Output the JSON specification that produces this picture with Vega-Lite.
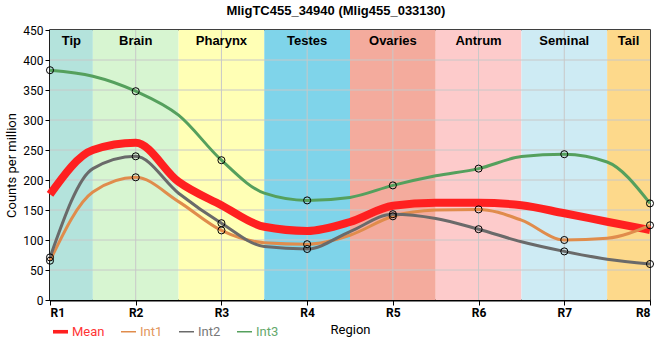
{
  "$schema": "https://vega.github.io/schema/vega-lite/v6.json",
  "width": 600,
  "height": 270,
  "autosize": "none",
  "padding": {"left": 50, "top": 30, "right": 10, "bottom": 60},
  "title": {"text": "MligTC455_34940 (Mlig455_033130)", "font": "Liberation Sans", "fontSize": 13, "fontWeight": "bold", "color": "black", "anchor": "middle", "frame": "bounds", "offset": 6},
  "config": {
    "view": {"stroke": "black", "strokeWidth": 1.5},
    "axis": {"labelFont": "Roboto", "titleFont": "Roboto", "labelColor": "black", "titleColor": "black", "domainColor": "black", "tickColor": "black", "grid": false, "titleFontWeight": "normal"}
  },
  "datasets": {
    "regions": [
      {"region": "Tip", "start": 1, "end": 1.5, "mid": 1.25},
      {"region": "Brain", "start": 1.5, "end": 2.5, "mid": 2},
      {"region": "Pharynx", "start": 2.5, "end": 3.5, "mid": 3},
      {"region": "Testes", "start": 3.5, "end": 4.5, "mid": 4},
      {"region": "Ovaries", "start": 4.5, "end": 5.5, "mid": 5},
      {"region": "Antrum", "start": 5.5, "end": 6.5, "mid": 6},
      {"region": "Seminal", "start": 6.5, "end": 7.5, "mid": 7},
      {"region": "Tail", "start": 7.5, "end": 8, "mid": 7.75}
    ],
    "gridy": [{"v": 50}, {"v": 100}, {"v": 150}, {"v": 200}, {"v": 250}, {"v": 300}, {"v": 350}, {"v": 400}],
    "gridx": [{"x": 2}, {"x": 3}, {"x": 4}, {"x": 5}, {"x": 6}, {"x": 7}],
    "expr": [
      {"series": "Mean", "x": 1, "v": 176, "m": 0},
      {"series": "Mean", "x": 1.5, "v": 250, "m": 0},
      {"series": "Mean", "x": 2, "v": 262, "m": 0},
      {"series": "Mean", "x": 2.5, "v": 197, "m": 0},
      {"series": "Mean", "x": 3, "v": 158, "m": 0},
      {"series": "Mean", "x": 3.5, "v": 122, "m": 0},
      {"series": "Mean", "x": 4, "v": 115, "m": 0},
      {"series": "Mean", "x": 4.5, "v": 130, "m": 0},
      {"series": "Mean", "x": 5, "v": 157, "m": 0},
      {"series": "Mean", "x": 5.5, "v": 162, "m": 0},
      {"series": "Mean", "x": 6, "v": 162, "m": 0},
      {"series": "Mean", "x": 6.5, "v": 158, "m": 0},
      {"series": "Mean", "x": 7, "v": 144.5, "m": 0},
      {"series": "Mean", "x": 7.5, "v": 130.5, "m": 0},
      {"series": "Mean", "x": 8, "v": 116.7, "m": 0},
      {"series": "Int1", "x": 1, "v": 65.5, "m": 1},
      {"series": "Int1", "x": 1.5, "v": 180, "m": 0},
      {"series": "Int1", "x": 2, "v": 204.5, "m": 1},
      {"series": "Int1", "x": 2.5, "v": 164, "m": 0},
      {"series": "Int1", "x": 3, "v": 116, "m": 1},
      {"series": "Int1", "x": 3.5, "v": 95.5, "m": 0},
      {"series": "Int1", "x": 4, "v": 93, "m": 1},
      {"series": "Int1", "x": 4.5, "v": 108, "m": 0},
      {"series": "Int1", "x": 5, "v": 139.5, "m": 1},
      {"series": "Int1", "x": 5.5, "v": 150, "m": 0},
      {"series": "Int1", "x": 6, "v": 151, "m": 1},
      {"series": "Int1", "x": 6.5, "v": 133, "m": 0},
      {"series": "Int1", "x": 7, "v": 100, "m": 1},
      {"series": "Int1", "x": 7.5, "v": 103, "m": 0},
      {"series": "Int1", "x": 8, "v": 124.5, "m": 1},
      {"series": "Int2", "x": 1, "v": 71, "m": 1},
      {"series": "Int2", "x": 1.5, "v": 219, "m": 0},
      {"series": "Int2", "x": 2, "v": 239.5, "m": 1},
      {"series": "Int2", "x": 2.5, "v": 178, "m": 0},
      {"series": "Int2", "x": 3, "v": 128, "m": 1},
      {"series": "Int2", "x": 3.5, "v": 89, "m": 0},
      {"series": "Int2", "x": 4, "v": 85, "m": 1},
      {"series": "Int2", "x": 4.5, "v": 114, "m": 0},
      {"series": "Int2", "x": 5, "v": 143, "m": 1},
      {"series": "Int2", "x": 5.5, "v": 136, "m": 0},
      {"series": "Int2", "x": 6, "v": 118, "m": 1},
      {"series": "Int2", "x": 6.5, "v": 97, "m": 0},
      {"series": "Int2", "x": 7, "v": 81, "m": 1},
      {"series": "Int2", "x": 7.5, "v": 68, "m": 0},
      {"series": "Int2", "x": 8, "v": 60, "m": 1},
      {"series": "Int3", "x": 1, "v": 383, "m": 1},
      {"series": "Int3", "x": 1.5, "v": 373, "m": 0},
      {"series": "Int3", "x": 2, "v": 348, "m": 1},
      {"series": "Int3", "x": 2.5, "v": 308, "m": 0},
      {"series": "Int3", "x": 3, "v": 233, "m": 1},
      {"series": "Int3", "x": 3.5, "v": 178, "m": 0},
      {"series": "Int3", "x": 4, "v": 166, "m": 1},
      {"series": "Int3", "x": 4.5, "v": 171, "m": 0},
      {"series": "Int3", "x": 5, "v": 191, "m": 1},
      {"series": "Int3", "x": 5.5, "v": 207, "m": 0},
      {"series": "Int3", "x": 6, "v": 219, "m": 1},
      {"series": "Int3", "x": 6.5, "v": 239, "m": 0},
      {"series": "Int3", "x": 7, "v": 243, "m": 1},
      {"series": "Int3", "x": 7.5, "v": 230, "m": 0},
      {"series": "Int3", "x": 8, "v": 161, "m": 1}
    ]
  },
  "layer": [
    {
      "data": {"name": "regions"},
      "mark": {"type": "rect"},
      "encoding": {
        "x": {"field": "start", "type": "quantitative", "scale": {"domain": [1, 8], "nice": false, "zero": false},
          "axis": {"values": [1, 2, 3, 4, 5, 6, 7, 8], "labelExpr": "'R' + datum.value", "title": "Region", "labelFontSize": 12, "labelFontWeight": "bold", "titleFontSize": 13, "domainWidth": 2, "tickSize": 5, "labelPadding": 2, "titlePadding": 5, "labelOverlap": false}},
        "x2": {"field": "end"},
        "fill": {"field": "region", "type": "nominal", "legend": null,
          "scale": {"domain": ["Tip", "Brain", "Pharynx", "Testes", "Ovaries", "Antrum", "Seminal", "Tail"],
                    "range": ["#b4e3dc", "#d7f5d1", "#ffffb5", "#7fd4ea", "#f4ab9d", "#fdcbcb", "#ceebf4", "#fdd98b"]}}
      }
    },
    {
      "data": {"name": "gridy"},
      "mark": {"type": "rule", "color": "#c8c8c8", "strokeWidth": 1},
      "encoding": {"y": {"field": "v", "type": "quantitative", "scale": {"domain": [0, 450], "nice": false},
        "axis": {"values": [0, 50, 100, 150, 200, 250, 300, 350, 400, 450], "title": "Counts per million", "labelFontSize": 12, "titleFontSize": 13, "domainWidth": 2, "tickSize": 5, "labelPadding": 2, "titlePadding": 4, "labelOverlap": false}}}
    },
    {
      "data": {"name": "gridx"},
      "mark": {"type": "rule", "color": "#c8c8c8", "strokeWidth": 1},
      "encoding": {"x": {"field": "x", "type": "quantitative"}}
    },
    {
      "data": {"name": "regions"},
      "mark": {"type": "text", "font": "Liberation Sans", "fontSize": 13, "fontWeight": "bold", "color": "black", "baseline": "middle"},
      "encoding": {
        "x": {"field": "mid", "type": "quantitative"},
        "y": {"datum": 431, "type": "quantitative",
          "axis": {"values": [0, 50, 100, 150, 200, 250, 300, 350, 400, 450], "title": "Counts per million", "labelFontSize": 12, "titleFontSize": 13, "domainWidth": 2, "tickSize": 5, "labelPadding": 2, "titlePadding": 4, "labelOverlap": false}},
        "text": {"field": "region"}
      }
    },
    {
      "data": {"name": "expr"},
      "transform": [{"filter": "datum.series == 'Mean'"}],
      "mark": {"type": "line", "interpolate": "monotone", "strokeWidth": 8},
      "encoding": {
        "x": {"field": "x", "type": "quantitative"},
        "y": {"field": "v", "type": "quantitative",
          "axis": {"values": [0, 50, 100, 150, 200, 250, 300, 350, 400, 450], "title": "Counts per million", "labelFontSize": 12, "titleFontSize": 13, "domainWidth": 2, "tickSize": 5, "labelPadding": 2, "titlePadding": 4, "labelOverlap": false}},
        "stroke": {"field": "series", "type": "nominal",
          "scale": {"domain": ["Mean", "Int1", "Int2", "Int3"], "range": ["#ff2020", "#e08c4c", "#6a6a6a", "#55a05d"]},
          "legend": {"title": null, "orient": "none", "legendX": 3, "legendY": 294, "direction": "horizontal", "symbolType": "M-1,-0.1L1,-0.1L1,0.1L-1,0.1Z", "symbolSize": 225, "labelFont": "Roboto", "labelFontSize": 13, "columnPadding": 16, "labelOffset": 4,
            "encode": {"symbols": {"update": {
                          "shape": {"signal": "datum.value === 'Mean' ? 'M-1,-0.24L1,-0.24L1,0.24L-1,0.24Z' : 'M-1,-0.1L1,-0.1L1,0.1L-1,0.1Z'"},
                          "fill": {"scale": "stroke", "field": "value"}, "strokeWidth": {"value": 0}}},
                       "labels": {"update": {"fill": {"scale": "stroke", "field": "value"}, "opacity": {"value": 0.9}}}}}},
        "order": {"field": "x", "type": "quantitative"}
      }
    },
    {
      "data": {"name": "expr"},
      "transform": [{"filter": "datum.series != 'Mean'"}],
      "mark": {"type": "line", "interpolate": "monotone", "strokeWidth": 3},
      "encoding": {
        "x": {"field": "x", "type": "quantitative"},
        "y": {"field": "v", "type": "quantitative",
          "axis": {"values": [0, 50, 100, 150, 200, 250, 300, 350, 400, 450], "title": "Counts per million", "labelFontSize": 12, "titleFontSize": 13, "domainWidth": 2, "tickSize": 5, "labelPadding": 2, "titlePadding": 4, "labelOverlap": false}},
        "stroke": {"field": "series", "type": "nominal"},
        "order": {"field": "x", "type": "quantitative"}
      }
    },
    {
      "data": {"name": "expr"},
      "transform": [{"filter": "datum.m == 1"}],
      "mark": {"type": "point", "shape": "circle", "filled": false, "fill": "transparent", "stroke": "black", "strokeWidth": 1, "size": 50, "opacity": 1},
      "encoding": {
        "x": {"field": "x", "type": "quantitative"},
        "y": {"field": "v", "type": "quantitative",
          "axis": {"values": [0, 50, 100, 150, 200, 250, 300, 350, 400, 450], "title": "Counts per million", "labelFontSize": 12, "titleFontSize": 13, "domainWidth": 2, "tickSize": 5, "labelPadding": 2, "titlePadding": 4, "labelOverlap": false}}
      }
    }
  ]
}
